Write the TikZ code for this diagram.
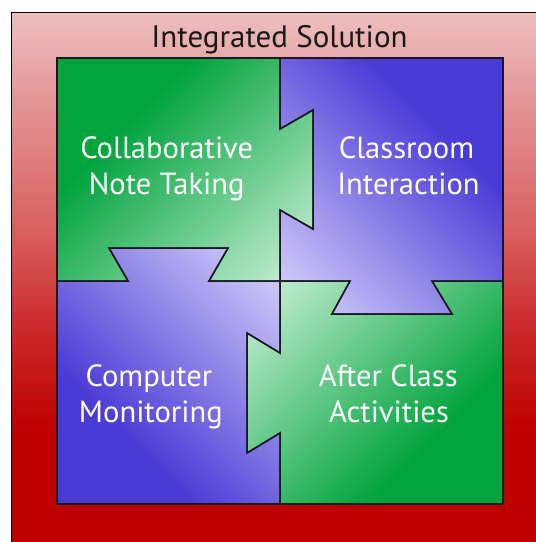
\documentclass[tikz,border=0pt]{standalone}
\usepackage{fontspec}
\setmainfont{PT Sans}

% palette
\definecolor{gdark}{RGB}{0,163,60}
\definecolor{glight}{RGB}{190,235,205}
\definecolor{bdark}{RGB}{74,58,214}
\definecolor{blight}{RGB}{206,201,248}
\definecolor{fredA}{RGB}{190,0,0}
\definecolor{fredB}{RGB}{203,40,40}
\definecolor{fredC}{RGB}{216,95,95}
\definecolor{fredD}{RGB}{227,145,145}
\definecolor{fredE}{RGB}{237,190,190}
\definecolor{edge}{RGB}{25,25,35}

% ramps: dark at the outer corner, light at the middle of the square
\pgfdeclarehorizontalshading{greenramp}{315pt}{color(0pt)=(gdark); color(47pt)=(gdark); color(157.5pt)=(glight); color(315pt)=(glight)}
\pgfdeclarehorizontalshading{blueramp}{315pt}{color(0pt)=(bdark); color(47pt)=(bdark); color(157.5pt)=(blight); color(315pt)=(blight)}
% frame: pink at the top, deep red below
\pgfdeclareverticalshading{frameramp}{272pt}{color(0pt)=(fredA); color(56.75pt)=(fredA); color(106.75pt)=(fredB); color(156.75pt)=(fredC); color(216.75pt)=(fredD); color(266pt)=(fredE)}

% the four interlocking pieces (pixel-like units, y downward)
\def\pieceTL{(57,58) -- (280,58) -- (280,129) -- (313,110) -- (313,229) -- (280,210) -- (280,281) -- (209,281) -- (228,248) -- (109,248) -- (128,281) -- (57,281) -- cycle}
\def\pieceTR{(280,58) -- (503,58) -- (503,281) -- (432,281) -- (452,314) -- (332,314) -- (350,281) -- (280,281) -- (280,210) -- (313,229) -- (313,110) -- (280,129) -- cycle}
\def\pieceBL{(57,281) -- (128,281) -- (109,248) -- (228,248) -- (209,281) -- (280,281) -- (280,353) -- (247,333) -- (247,453) -- (280,433) -- (280,504) -- (57,504) -- cycle}
\def\pieceBR{(280,281) -- (350,281) -- (332,314) -- (452,314) -- (432,281) -- (503,281) -- (503,504) -- (280,504) -- (280,433) -- (247,453) -- (247,333) -- (280,353) -- cycle}

\tikzset{
  rampfill/.style={inner sep=0pt, outer sep=0pt},
  pieceline/.style={draw=edge, line width=0.75pt, line join=miter},
  label/.style={text=white, font=\fontsize{15.3pt}{18pt}\selectfont, inner sep=0pt, anchor=base},
  titletext/.style={text=black!90, font=\fontsize{15.5pt}{18pt}\selectfont, inner sep=0pt, anchor=base},
}

\begin{document}
\begin{tikzpicture}[x=0.5pt, y=-0.5pt]
  \useasboundingbox (0,0) rectangle (536,542);
  \clip (0,0) rectangle (536,542);
  \fill[white] (0,0) rectangle (536,542);

  % outer frame
  \begin{scope}
    \clip (11.5,12.5) rectangle (560,560);
    \node[rampfill, anchor=north west] (framefill) at (11.5,12.5) {\pgfuseshading{frameramp}};
  \end{scope}
  \draw[black, line width=0.8pt] (11.5,560) -- (11.5,12.5) -- (560,12.5);

  % shaded pieces
  \begin{scope}
    \clip \pieceTL;
    \node[rampfill, rotate=-45] (fillTL) at (280,281) {\pgfuseshading{greenramp}};
  \end{scope}
  \begin{scope}
    \clip \pieceTR;
    \node[rampfill, rotate=-135] (fillTR) at (280,281) {\pgfuseshading{blueramp}};
  \end{scope}
  \begin{scope}
    \clip \pieceBL;
    \node[rampfill, rotate=45] (fillBL) at (280,281) {\pgfuseshading{blueramp}};
  \end{scope}
  \begin{scope}
    \clip \pieceBR;
    \node[rampfill, rotate=135] (fillBR) at (280,281) {\pgfuseshading{greenramp}};
  \end{scope}

  % outlines
  \path[pieceline] \pieceTL;
  \path[pieceline] \pieceTR;
  \path[pieceline] \pieceBL;
  \path[pieceline] \pieceBR;
  \draw[edge, line width=1.2pt] (57,58) rectangle (503,504);

  % texts
  \node[titletext] (title) at (279.5,47) {Integrated Solution};
  \node[label] (collab1) at (166.7,158) {Collaborative};
  \node[label] (collab2) at (166.7,194) {Note Taking};
  \node[label] (class1) at (406.5,158) {Classroom};
  \node[label] (class2) at (408.5,194) {Interaction};
  \node[label] (comp1) at (149,386) {Computer};
  \node[label] (comp2) at (150.8,422) {Monitoring};
  \node[label] (after1) at (388.3,386) {After Class};
  \node[label] (after2) at (389,422) {Activities};
\end{tikzpicture}
\end{document}
